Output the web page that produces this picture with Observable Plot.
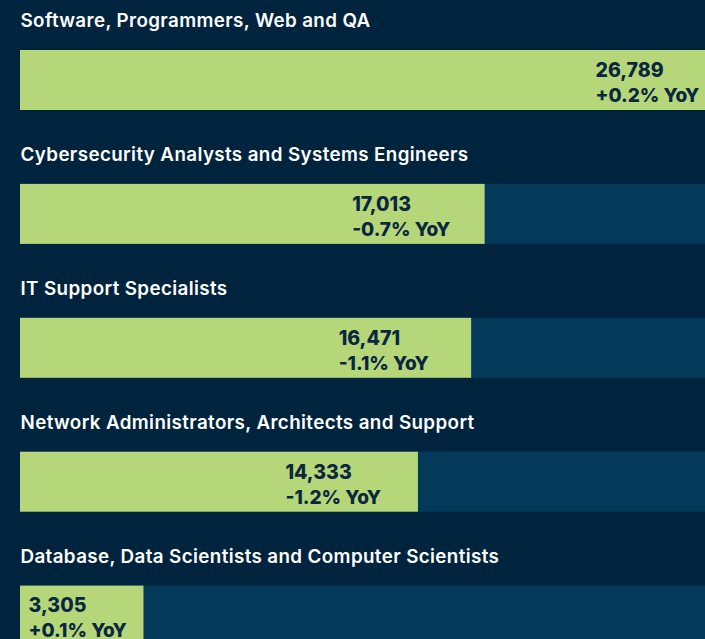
<!DOCTYPE html>
<html>
<head>
<meta charset="utf-8">
<script src="https://cdn.jsdelivr.net/npm/d3@7"></script>
<script src="https://cdn.jsdelivr.net/npm/@observablehq/plot@0.6"></script>
<style>
  html, body { margin: 0; padding: 0; background: #00243d; overflow: hidden; }
  #chart svg { display: block; }
  #chart text.title { letter-spacing: 0.38px; }
</style>
</head>
<body>
<div id="chart"></div>
<script>
const categories = [
  "Software, Programmers, Web and QA",
  "Cybersecurity Analysts and Systems Engineers",
  "IT Support Specialists",
  "Network Administrators, Architects and Support",
  "Database, Data Scientists and Computer Scientists"
];
const values = [26789, 17013, 16471, 14333, 3305];
const yoy = ["+0.2%", "-0.7%", "-1.1%", "-1.2%", "+0.1%"];

const data = categories.map((c, i) => ({category: c, value: values[i], yoy: yoy[i]}));

const W = 705, H = 639;
const xDomain = [-1655, 25866];
const xs = d3.scaleLinear(xDomain, [20, W]);
const labelX = d => Math.max(d.value, xs.invert(28 + 133));

const BG = "#00243d", TRACK = "#033a5a", GREEN = "#b6d779", INK = "#0b2740";

const chart = Plot.plot({
  width: W,
  height: H,
  marginLeft: 20,
  marginRight: 0,
  marginTop: 0,
  marginBottom: 0,
  style: {background: BG, fontFamily: "Inter, 'Open Sans', sans-serif", overflow: "hidden"},
  x: {domain: xDomain, axis: null},
  y: {domain: categories, range: [50, 645.6], paddingInner: 0.552, paddingOuter: 0, round: false, axis: null},
  marks: [
    Plot.barX(data, {y: "category", x1: xDomain[0], x2: xDomain[1], fill: TRACK, clip: "frame"}),
    Plot.barX(data, {y: "category", x1: xDomain[0], x2: "value", fill: GREEN, clip: "frame"}),
    Plot.text(data, {y: "category", x: xDomain[0], text: "category", textAnchor: "start", lineAnchor: "bottom",
      dy: -53.4, fill: "#ffffff", fontSize: 18.8, fontWeight: 600}),
    Plot.text(data, {y: "category", x: labelX, text: d => d.value.toLocaleString("en-US"), textAnchor: "start",
      lineAnchor: "bottom", dx: -133, dy: -3.7, fill: INK, fontSize: 19.5, fontWeight: 800}),
    Plot.text(data, {y: "category", x: labelX, text: d => d.yoy + " YoY", textAnchor: "start",
      lineAnchor: "bottom", dx: -133, dy: 21.3, fill: INK, fontSize: 19, fontWeight: 800})
  ]
});
chart.querySelectorAll("g[aria-label='text']").forEach((g, i) => { if (i === 0) g.querySelectorAll("text").forEach(t => t.classList.add("title")); });
document.getElementById("chart").append(chart);
</script>
</body>
</html>
